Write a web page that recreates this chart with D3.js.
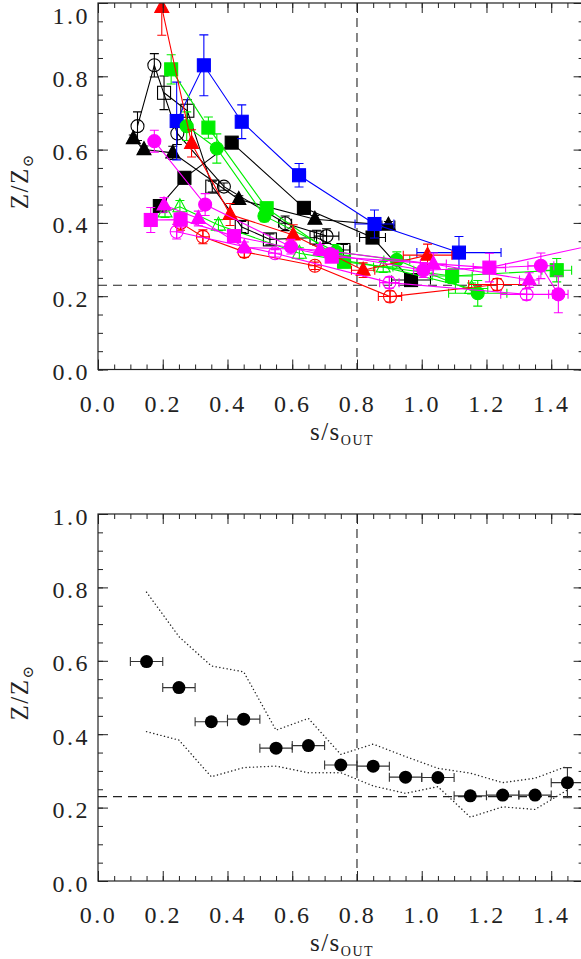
<!DOCTYPE html>
<html>
<head>
<meta charset="utf-8">
<script src="https://cdn.jsdelivr.net/npm/d3@7"></script>
<style>
  html, body { margin: 0; padding: 0; background: #fff; }
  svg { display: block; }
  .lbl { font-family: "Liberation Serif", "DejaVu Serif", serif; font-size: 24px; fill: #222; letter-spacing: 2.5px; }
  .ttl { font-family: "Liberation Serif", "DejaVu Serif", serif; font-size: 25px; fill: #222; letter-spacing: 1.5px; }
</style>
</head>
<body>
<svg id="chart" width="581" height="959"></svg>
<script>
// ---- tick values ----
const xTicks = [0.0, 0.2, 0.4, 0.6, 0.8, 1.0, 1.2, 1.4];
const yTicks = [0.0, 0.2, 0.4, 0.6, 0.8, 1.0];
const refX = 0.8;   // vertical dashed reference
const refZ = 0.23;  // horizontal dashed reference

// ---- upper panel: individual profiles (x = s/s_out, y = Z/Zsun, ey/ex = errors) ----
const blackTri = { x: [0.109, 0.142, 0.231, 0.435, 0.670, 0.897],
                   y: [0.630, 0.600, 0.591, 0.464, 0.410, 0.394],
                   ey: [0.010, 0.010, 0.018, 0.010, 0.010, 0.010],
                   ex: [0, 0, 0, 0, 0, 0.02] };
const blackSq  = { x: [0.191, 0.267, 0.413, 0.636, 0.848, 0.967],
                   y: [0.446, 0.523, 0.619, 0.441, 0.360, 0.244],
                   ey: [0.010, 0.010, 0.010, 0.010, 0.015, 0.010],
                   ex: [0, 0, 0, 0, 0.04, 0.06] };
const blackOpenSq = { x: [0.204, 0.276, 0.353, 0.444, 0.531, 0.675, 0.758],
                      y: [0.755, 0.706, 0.499, 0.389, 0.355, 0.360, 0.326],
                      ey: [0.046, 0.030, 0.015, 0.015, 0.015, 0.020, 0.015],
                      ex: [0, 0, 0, 0, 0, 0, 0.02] };
const blackOpenCirc = { x: [0.122, 0.174, 0.245, 0.389, 0.578, 0.706],
                        y: [0.664, 0.830, 0.644, 0.499, 0.399, 0.364],
                        ey: [0.039, 0.032, 0.030, 0.010, 0.020, 0.020],
                        ex: [0, 0, 0, 0, 0.02, 0.038] };
const blueSq = { x: [0.243, 0.327, 0.444, 0.621, 0.854, 1.115],
                 y: [0.678, 0.830, 0.676, 0.530, 0.397, 0.319],
                 ey: [0.106, 0.083, 0.046, 0.032, 0.038, 0.044],
                 ex: [0, 0, 0, 0.02, 0.06, 0.13] };
const greenSq = { x: [0.226, 0.341, 0.521, 0.760, 1.094, 1.417],
                  y: [0.819, 0.660, 0.440, 0.294, 0.255, 0.271],
                  ey: [0.040, 0.029, 0.016, 0.016, 0.020, 0.032],
                  ex: [0, 0, 0, 0.02, 0.062, 0.046] };
const greenCirc = { x: [0.274, 0.367, 0.514, 0.735, 0.923, 1.173],
                    y: [0.664, 0.603, 0.419, 0.321, 0.299, 0.208],
                    ey: [0.039, 0.040, 0.016, 0.020, 0.022, 0.035],
                    ex: [0, 0, 0, 0, 0.04, 0.09] };
const greenOpenTri = { x: [0.207, 0.253, 0.372, 0.622, 0.881, 1.154],
                       y: [0.430, 0.444, 0.394, 0.317, 0.280, 0.221],
                       ey: [0.015, 0.017, 0.015, 0.015, 0.015, 0.015],
                       ex: [0, 0, 0, 0, 0.03, 0.05] };
const redTri = { x: [0.197, 0.289, 0.408, 0.603, 0.819, 1.018],
                 y: [0.988, 0.617, 0.423, 0.367, 0.271, 0.312],
                 ey: [0.076, 0.037, 0.030, 0.028, 0.020, 0.030],
                 ex: [0, 0, 0, 0, 0.036, 0.075] };
const redCross = { x: [0.255, 0.324, 0.452, 0.670, 0.902, 1.233],
                   y: [0.400, 0.362, 0.321, 0.283, 0.199, 0.232],
                   ey: [0.020, 0.019, 0.015, 0.010, 0.015, 0.016],
                   ex: [0, 0, 0, 0, 0.036, 0.088] };
const magCirc = { x: [0.174, 0.331, 0.596, 0.717, 1.005, 1.368, 1.422],
                  y: [0.623, 0.450, 0.335, 0.315, 0.271, 0.283, 0.205],
                  ey: [0.030, 0.030, 0.020, 0.015, 0.020, 0.035, 0.050],
                  ex: [0, 0, 0, 0, 0.03, 0.04, 0.03] };
const magSq = { x: [0.163, 0.255, 0.420, 0.722, 1.209, 1.600],
                y: [0.408, 0.409, 0.364, 0.308, 0.278, 0.353],
                ey: [0.034, 0.020, 0.015, 0.015, 0.039, 0],
                ex: [0, 0, 0, 0, 0.05, 0] };
const magTri = { x: [0.204, 0.310, 0.452, 0.686, 1.036, 1.332],
                 y: [0.449, 0.412, 0.333, 0.326, 0.288, 0.244],
                 ey: [0.020, 0.020, 0.015, 0.015, 0.030, 0.020],
                 ex: [0, 0, 0, 0, 0.04, 0.03] };
const magCross = { x: [0.243, 0.547, 0.900, 1.324],
                   y: [0.376, 0.317, 0.237, 0.205],
                   ey: [0.020, 0.010, 0.015, 0.015],
                   ex: [0, 0, 0.03, 0.08] };

// ---- lower panel: mean profile and envelope ----
const binX    = [0.15, 0.25, 0.35, 0.45, 0.55, 0.65, 0.75, 0.85, 0.95, 1.05, 1.15, 1.25, 1.35, 1.45];
const meanZ   = [0.598, 0.527, 0.434, 0.441, 0.362, 0.369, 0.316, 0.313, 0.283, 0.282, 0.232, 0.234, 0.234, 0.268];
const meanErr = [0, 0, 0, 0, 0, 0, 0, 0, 0, 0, 0, 0, 0, 0.041];
const binHalf = 0.05;
const upperZ  = [0.787, 0.666, 0.586, 0.570, 0.411, 0.443, 0.345, 0.373, 0.339, 0.307, 0.294, 0.268, 0.280, 0.313];
const lowerZ  = [0.407, 0.384, 0.284, 0.309, 0.313, 0.295, 0.295, 0.259, 0.239, 0.257, 0.174, 0.202, 0.195, 0.248];

// ---- styles ----
const seriesStyle = [
  { d: blackTri,      color: "#000",    shape: "triangle", filled: true },
  { d: blackSq,       color: "#000",    shape: "square",   filled: true },
  { d: blackOpenSq,   color: "#000",    shape: "square",   filled: false },
  { d: blackOpenCirc, color: "#000",    shape: "circle",   filled: false },
  { d: blueSq,        color: "#0000ff", shape: "square",   filled: true },
  { d: greenSq,       color: "#00ee00", shape: "square",   filled: true },
  { d: greenCirc,     color: "#00ee00", shape: "circle",   filled: true },
  { d: greenOpenTri,  color: "#00ee00", shape: "triangle", filled: false },
  { d: redTri,        color: "#ff0000", shape: "triangle", filled: true },
  { d: redCross,      color: "#ff0000", shape: "cross",    filled: false },
  { d: magCirc,       color: "#ff00ff", shape: "circle",   filled: true },
  { d: magSq,         color: "#ff00ff", shape: "square",   filled: true },
  { d: magTri,        color: "#ff00ff", shape: "triangle", filled: true },
  { d: magCross,      color: "#ff00ff", shape: "cross",    filled: false }
];

const svg = d3.select("#chart");
const plotLeft = 98, plotRight = 583.6;
const x = d3.scaleLinear().domain([0, 1.5]).range([plotLeft, plotRight]);
const panels = [
  { top: 3,     bottom: 369.5, id: "top" },
  { top: 514,   bottom: 881,   id: "bot" }
];
const minorX = d3.range(0, 1.5001, 0.05);
const minorY = d3.range(0, 1.0001, 0.05);
const fmt = d3.format(".1f");

function drawFrame(p, y) {
  const g = svg.append("g");
  const axisStroke = "#222";
  // minor ticks
  const axB = d3.axisBottom(x).tickValues(minorX).tickSize(-5).tickFormat("");
  const axT = d3.axisTop(x).tickValues(minorX).tickSize(-5).tickFormat("");
  const axL = d3.axisLeft(y).tickValues(minorY).tickSize(-5).tickFormat("");
  const axR = d3.axisRight(y).tickValues(minorY).tickSize(-5).tickFormat("");
  // major ticks with labels on the bottom and left sides
  const AxB = d3.axisBottom(x).tickValues(xTicks).tickSize(-10).tickPadding(25).tickFormat(fmt);
  const AxT = d3.axisTop(x).tickValues(xTicks).tickSize(-10).tickFormat("");
  const AxL = d3.axisLeft(y).tickValues(yTicks).tickSize(-10).tickPadding(8).tickFormat(fmt);
  const AxR = d3.axisRight(y).tickValues(yTicks).tickSize(-10).tickFormat("");
  const place = [
    [axB, `translate(0,${p.bottom})`], [AxB, `translate(0,${p.bottom})`],
    [axT, `translate(0,${p.top})`],    [AxT, `translate(0,${p.top})`],
    [axL, `translate(${plotLeft},0)`], [AxL, `translate(${plotLeft},0)`],
    [axR, `translate(${plotRight},0)`],[AxR, `translate(${plotRight},0)`]
  ];
  place.forEach(([ax, tr]) => {
    const a = g.append("g").attr("transform", tr).call(ax);
    a.select(".domain").remove();
    a.selectAll("line").attr("stroke", axisStroke).attr("stroke-width", 1);
    a.selectAll("text").attr("class", "lbl").attr("fill", null);
  });
  // y labels sit a little below their ticks; keep the topmost one inside the page
  g.selectAll("text.lbl").filter(function() { return this.getAttribute("x") !== null && +this.getAttribute("x") < 0; })
    .attr("dy", function() {
      const ty = +this.parentNode.getAttribute("transform").match(/,([\d.]+)\)/)[1];
      return ty < 12 ? "0.85em" : "0.42em";
    });
  g.append("rect").attr("x", plotLeft).attr("y", p.top)
    .attr("width", plotRight - plotLeft).attr("height", p.bottom - p.top)
    .attr("fill", "none").attr("stroke", axisStroke).attr("stroke-width", 1.2);

  // y title: Z/Z_sun
  const yt = svg.append("text").attr("class", "ttl")
    .attr("transform", `translate(28,${(p.top + p.bottom) / 2 - 5}) rotate(-90)`)
    .attr("text-anchor", "middle");
  yt.append("tspan").text("Z/Z");
  yt.append("tspan").attr("font-size", "15px").attr("dy", 5).text("⊙");
  // x title: s/s_OUT
  const xt = svg.append("text").attr("class", "ttl")
    .attr("x", 342).attr("y", p.bottom + 70)
    .attr("text-anchor", "middle");
  xt.append("tspan").text("s/s");
  xt.append("tspan").attr("font-size", "14px").attr("dy", 5).text("OUT");
}

function dashed(g, y) {
  g.append("line").attr("x1", x(refX)).attr("x2", x(refX))
    .attr("y1", y.range()[1]).attr("y2", y.range()[0])
    .attr("stroke", "#222").attr("stroke-dasharray", "9,6").attr("stroke-width", 1.1);
  g.append("line").attr("x1", plotLeft).attr("x2", plotRight)
    .attr("y1", y(refZ)).attr("y2", y(refZ))
    .attr("stroke", "#222").attr("stroke-dasharray", "9,6").attr("stroke-width", 1.1);
}

function errBars(g, pts, y, color) {
  const cap = 4.5;
  pts.forEach(p => {
    if (p.ey > 0) {
      const y0 = y(p.y - p.ey), y1 = y(p.y + p.ey), cx = x(p.x);
      g.append("path").attr("d", `M${cx},${y0}V${y1}M${cx - cap},${y0}H${cx + cap}M${cx - cap},${y1}H${cx + cap}`)
        .attr("stroke", color).attr("fill", "none").attr("stroke-width", 1.1);
    }
    if (p.ex > 0) {
      const x0 = x(p.x - p.ex), x1 = x(p.x + p.ex), cy = y(p.y);
      g.append("path").attr("d", `M${x0},${cy}H${x1}M${x0},${cy - cap}V${cy + cap}M${x1},${cy - cap}V${cy + cap}`)
        .attr("stroke", color).attr("fill", "none").attr("stroke-width", 1.1);
    }
  });
}

function marker(g, shape, filled, color, cx, cy) {
  const stroke = color, fill = filled ? color : "none";
  if (shape === "square") {
    g.append("rect").attr("x", cx - 6.5).attr("y", cy - 6.5).attr("width", 13).attr("height", 13)
      .attr("fill", fill).attr("stroke", stroke).attr("stroke-width", 1.1);
  } else if (shape === "circle") {
    g.append("circle").attr("cx", cx).attr("cy", cy).attr("r", 6.5)
      .attr("fill", fill).attr("stroke", stroke).attr("stroke-width", 1.1);
  } else if (shape === "triangle") {
    g.append("path").attr("d", `M${cx},${cy - 8}L${cx + 7},${cy + 5}L${cx - 7},${cy + 5}Z`)
      .attr("fill", fill).attr("stroke", stroke).attr("stroke-width", 1.1);
  } else if (shape === "cross") {
    g.append("circle").attr("cx", cx).attr("cy", cy).attr("r", 6.5)
      .attr("fill", "none").attr("stroke", stroke).attr("stroke-width", 1.1);
    g.append("path").attr("d", `M${cx - 6.5},${cy}H${cx + 6.5}M${cx},${cy - 6.5}V${cy + 6.5}`)
      .attr("stroke", stroke).attr("stroke-width", 1.1);
  }
}

// clip paths for both panels
const defs = svg.append("defs");
panels.forEach(p => {
  defs.append("clipPath").attr("id", "clip-" + p.id)
    .append("rect").attr("x", plotLeft).attr("y", p.top)
    .attr("width", plotRight - plotLeft).attr("height", p.bottom - p.top);
});

// ---------- upper panel ----------
const pT = panels[0];
const yT = d3.scaleLinear().domain([0, 1]).range([pT.bottom, pT.top]);
const gT = svg.append("g").attr("clip-path", "url(#clip-top)");
dashed(gT, yT);
const line = d3.line().x(d => x(d.x)).y(d => yT(d.y));
seriesStyle.forEach(s => {
  const pts = s.d.x.map((v, i) => ({ x: v, y: s.d.y[i], ey: s.d.ey[i], ex: s.d.ex[i] }));
  const g = gT.append("g");
  g.append("path").datum(pts).attr("d", line)
    .attr("fill", "none").attr("stroke", s.color).attr("stroke-width", 1.1);
  errBars(g, pts, yT, s.color);
  pts.forEach(p => marker(g, s.shape, s.filled, s.color, x(p.x), yT(p.y)));
});
drawFrame(pT, yT);

// ---------- lower panel ----------
const pB = panels[1];
const yB = d3.scaleLinear().domain([0, 1]).range([pB.bottom, pB.top]);
const gB = svg.append("g").attr("clip-path", "url(#clip-bot)");
dashed(gB, yB);
const envLine = d3.line().x(d => x(d[0])).y(d => yB(d[1]));
[upperZ, lowerZ].forEach(arr => {
  gB.append("path").datum(binX.map((v, i) => [v, arr[i]])).attr("d", envLine)
    .attr("fill", "none").attr("stroke", "#222").attr("stroke-width", 1.4)
    .attr("stroke-dasharray", "0.1,3.6").attr("stroke-linecap", "round");
});
const meanPts = binX.map((v, i) => ({ x: v, y: meanZ[i], ey: meanErr[i], ex: binHalf }));
errBars(gB, meanPts, yB, "#333");
meanPts.forEach(p => gB.append("circle").attr("cx", x(p.x)).attr("cy", yB(p.y)).attr("r", 6.5).attr("fill", "#000"));
drawFrame(pB, yB);
</script>
</body>
</html>
